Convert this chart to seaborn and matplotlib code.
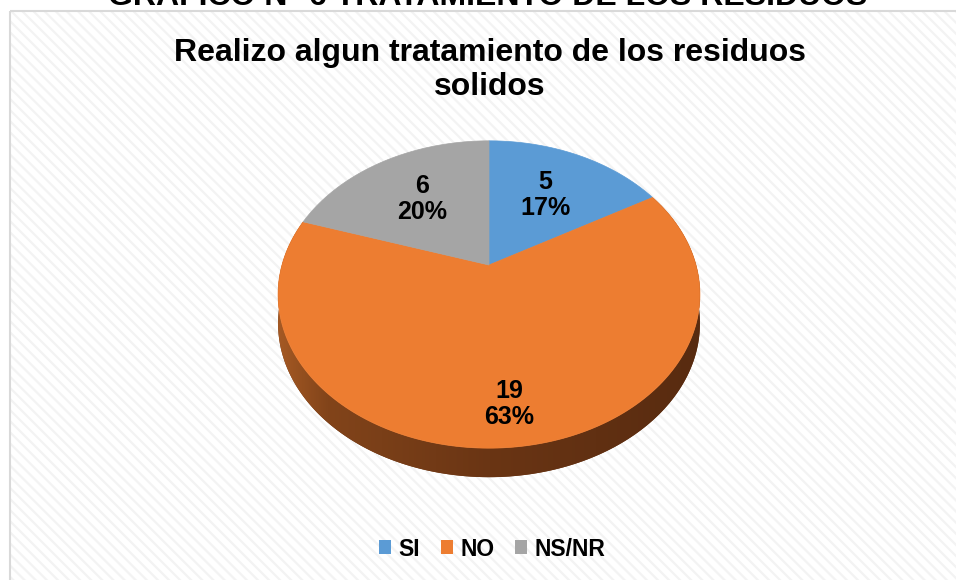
import numpy as np
import matplotlib
matplotlib.use("Agg")
import matplotlib.pyplot as plt
import seaborn as sns
from matplotlib.patches import Rectangle, Polygon, Patch
from matplotlib.colors import LinearSegmentedColormap

# datos del grafico
categorias = ["SI", "NO", "NS/NR"]
valores = [5, 19, 6]
colores = ["#5B9BD5", "#ED7D31", "#A5A5A5"]
titulo = "Realizo algun tratamiento de los residuos\nsolidos"
encabezado = "GRAFICO N° 6 TRATAMIENTO DE LOS RESIDUOS"

sns.set_theme(style="white")
plt.rcParams["font.family"] = ["Liberation Sans", "DejaVu Sans"]
plt.rcParams["text.color"] = "black"
plt.rcParams["hatch.linewidth"] = 1.6
paleta = sns.color_palette(colores)

# geometria del pastel en perspectiva (pixeles)
cx, cy = 489, 265
A, B, k = 207, 148, 0.192
prof = 29


def proyectar(theta, r=1.0):
    X = r * np.cos(theta)
    Y = r * np.sin(theta)
    den = 1 + k * Y
    return cx + A * X / den, cy - B * Y / den


fig = plt.figure(figsize=(9.56, 5.8), dpi=100)
ax = fig.add_axes([0, 0, 1, 1])

# fondo rayado y marco
ax.add_patch(Rectangle((10, 11), 960, 600, facecolor="white", edgecolor="#F3F3F3",
                       hatch="\\\\\\", lw=0, zorder=0))
ax.add_patch(Rectangle((10, 11), 960, 600, facecolor="none", edgecolor="#D9D9D9",
                       lw=1.5, zorder=1))

total = sum(valores)
fracs = np.array(valores) / total
inicio = np.deg2rad(90) - 2 * np.pi * np.concatenate([[0], np.cumsum(fracs)[:-1]])
fin = inicio - 2 * np.pi * fracs

# lateral (solo visible en NO)
i_no = categorias.index("NO")
t = np.linspace(inicio[i_no], fin[i_no], 300)
sx, sy = proyectar(t)
banda = np.column_stack([np.concatenate([sx, sx[::-1]]),
                         np.concatenate([sy, sy[::-1] + prof])])
poly = Polygon(banda, closed=True, facecolor="#6A3514", lw=0, zorder=2)
ax.add_patch(poly)
cmap = LinearSegmentedColormap.from_list(
    "lado", [(0, "#A65A24"), (0.12, "#82441A"), (0.5, "#6A3514"), (1, "#582B10")])
grad = np.linspace(0, 1, 256)[None, :]
im = ax.imshow(grad, extent=(cx - A * 1.03, cx + A * 1.03, cy + 260, cy - 60),
               aspect="auto", cmap=cmap, zorder=3)
im.set_clip_path(poly)

# caras superiores
radio_etq = [0.6, 0.8, 0.6]
for i, cat in enumerate(categorias):
    t = np.linspace(inicio[i], fin[i], 200)
    px, py = proyectar(t)
    ax.fill(np.concatenate([[cx], px]), np.concatenate([[cy], py]),
            color=paleta[i], lw=0.5, ec=paleta[i], zorder=4)
    medio = (inicio[i] + fin[i]) / 2
    lx, ly = proyectar(medio, radio_etq[i])
    pct = round(valores[i] / total * 100)
    ax.text(lx, ly, f"{valores[i]}\n{pct}%", ha="center", va="center",
            fontsize=18, fontweight="bold", color="black", linespacing=1.1, zorder=5)

# titulos
ax.text(490, 70, titulo, ha="center", va="center", fontsize=23, fontweight="bold",
        color="black", linespacing=1.15, zorder=5)
ax.text(488, 5, encabezado, ha="center", va="baseline", fontsize=23,
        fontweight="bold", color="black", zorder=5)

# leyenda
handles = [Patch(facecolor=paleta[i], edgecolor="none", label=c)
           for i, c in enumerate(categorias)]
ax.legend(handles=handles, loc="center", bbox_to_anchor=(492, 549),
          bbox_transform=ax.transData, ncol=3, frameon=False, labelcolor="black",
          prop={"size": 16.5, "weight": "bold"}, handlelength=0.55,
          handleheight=0.55, handletextpad=0.3, columnspacing=0.9)

ax.set_xlim(0, 956)
ax.set_ylim(580, 0)
ax.axis("off")
fig.savefig("out.png", dpi=100)
